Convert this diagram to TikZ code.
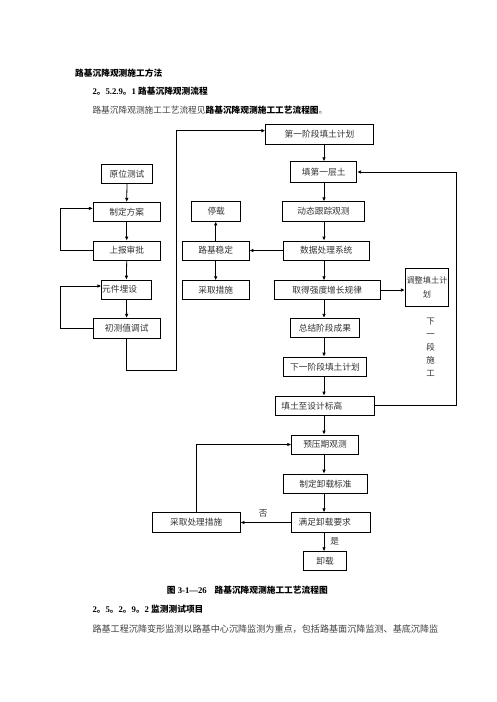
\documentclass[tikz,border=0pt]{standalone}
\usepackage{fontspec}
\setmainfont{Liberation Serif}
\newfontfamily\cjk{Noto Sans CJK SC}
\usetikzlibrary{arrows.meta}
\begin{document}
\begin{tikzpicture}[x=1pt,y=-1pt,
  box/.style={draw,line width=0.8pt,inner sep=0pt,font=\cjk\fontsize{8.7}{10}\selectfont,text=black!80},
  arr/.style={line width=0.8pt,-{Latex[length=4pt,width=3.6pt]}},
  ln/.style={line width=0.8pt},
  txt/.style={inner sep=0pt,anchor=west,font=\fontsize{8.7}{10}\selectfont},
  lbl/.style={inner sep=0pt,font=\cjk\fontsize{8.7}{10}\selectfont,text=black!80}]
\useasboundingbox (0,0) rectangle (496,702);
\fill[white] (0,0) rectangle (496,702);

% texts
\node[txt] (t1) at (75,73) {\cjk\bfseries 路基沉降观测施工方法};
\node[txt] (t2) at (92.3,91.5) {\bfseries 2{\cjk 。}5.2.9{\cjk 。}1\ {\cjk 路基沉降观测流程}};
\node[txt,text=black!75] (t3) at (92.3,110.5) {\cjk 路基沉降观测施工工艺流程见{\bfseries\color{black}路基沉降观测施工工艺流程图}。};
\node[txt] (cap) at (166.7,590) {\bfseries{\cjk 图} 3-1—26\hspace{0.9em}{\cjk 路基沉降观测施工工艺流程图}};
\node[txt] (t5) at (92.3,609.3) {\bfseries 2{\cjk 。}5{\cjk 。}2{\cjk 。}9{\cjk 。}2 {\cjk 监测测试项目}};
\node[txt,text=black!75,font=\fontsize{9.1}{10}\selectfont] (t6) at (92.3,629.3) {\cjk 路基工程沉降变形监测以路基中心沉降监测为重点，包括路基面沉降监测、基底沉降监};

% main column
\node[box,minimum width=107.6pt,minimum height=20pt] (p1) at (319.5,134.3) {第一阶段填土计划};
\node[box,minimum width=66pt,minimum height=20.6pt] (f1) at (323.7,172) {填第一层土};
\node[box,minimum width=81.6pt,minimum height=19.3pt] (dt) at (323.5,211.4) {动态跟踪观测};
\node[box,minimum width=86pt,minimum height=19pt] (sj) at (326.3,250.5) {数据处理系统};
\node[box,minimum width=105.7pt,minimum height=18.6pt] (qd) at (327.2,290) {取得强度增长规律};
\node[box,minimum width=43.4pt,minimum height=37.7pt,align=center,font=\cjk\fontsize{8.2}{14.5}\selectfont] (tz) at (427,287.2) {调整填土计\\划};
\node[box,minimum width=68.3pt,minimum height=19pt] (zj) at (324.9,327.8) {总结阶段成果};
\node[box,minimum width=83.4pt,minimum height=19.7pt] (xy) at (325,366.9) {下一阶段填土计划};
\node[box,text width=87pt,inner xsep=6pt,align=left,minimum height=19.5pt] (ts) at (324.8,405.8) {填土至设计标高};
\node[box,minimum width=66.6pt,minimum height=19pt] (yy) at (325,444.5) {预压期观测};
\node[box,minimum width=84.4pt,minimum height=19.3pt] (zd) at (325.5,483.7) {制定卸载标准};
\node[box,text width=65pt,inner xsep=7pt,align=left,minimum height=19.6pt] (mz) at (331.2,522.5) {满足卸载要求};
\node[box,minimum width=43.4pt,minimum height=19pt] (xz) at (325,561.2) {卸载};
\node[box,minimum width=87.7pt,minimum height=19.6pt] (cq) at (196.2,522.5) {采取处理措施};

% middle column
\node[box,minimum width=49pt,minimum height=19.3pt] (tzai) at (216.2,211.4) {停载};
\node[box,minimum width=66.7pt,minimum height=19pt] (lj) at (215.7,250.5) {路基稳定};
\node[box,minimum width=66.7pt,minimum height=18.6pt] (cc) at (215.7,290) {采取措施};

% left column
\node[box,minimum width=50.6pt,minimum height=19.3pt] (yw) at (127,173.7) {原位测试};
\node[box,minimum width=66.7pt,minimum height=18.7pt] (zf) at (126.7,211.7) {制定方案};
\node[box,minimum width=66.7pt,minimum height=19pt] (sb) at (126.7,250.5) {上报审批};
\node[box,text width=48.5pt,inner xsep=0.4pt,align=left,minimum height=19.3pt] (yj) at (126.4,289.7) {元件埋设};
\node[box,minimum width=66.7pt,minimum height=20pt] (cs) at (126.7,328.3) {初测值调试};

% labels
\node[lbl,align=center,font=\cjk\fontsize{8.5}{12.9}\selectfont] (vt) at (430.7,347.5) {下\\一\\段\\施\\工};
\node[lbl] (no) at (263.3,513.5) {否};
\node[lbl] (yes) at (334.8,541.7) {是};

% coordinates
\coordinate (col) at (324,0);
\coordinate (fb) at (456,0);
\coordinate (lx) at (60,0);
\coordinate (rb) at (176.7,370);

% main column arrows
\draw[arr] (col |- p1.south) -- (col |- f1.north);
\draw[arr] (col |- f1.south) -- (col |- dt.north);
\draw[arr] (col |- dt.south) -- (col |- sj.north);
\draw[arr] (col |- sj.south) -- (col |- qd.north);
\draw[arr] (col |- qd.south) -- (col |- zj.north);
\draw[arr] (col |- zj.south) -- (col |- xy.north);
\draw[arr] (col |- xy.south) -- (col |- ts.north);
\draw[arr] (col |- ts.south) -- (col |- yy.north);
\draw[arr] (col |- yy.south) -- (col |- zd.north);
\draw[arr] (col |- zd.south) -- (col |- mz.north);
\draw[arr] (col |- mz.south) -- (col |- xz.north);

\draw[arr] (qd.east) -- (qd.east -| tz.west);
\draw[arr] (ts.east) -- (ts.east -| fb) -- (fb |- f1.east) -- (f1.east);
\draw[arr] (sj.west) -- (lj.east);
\draw[arr] (lj.north) -- (lj.north |- tzai.south);
\draw[arr] (lj.south) -- (cc.north);
\draw[arr] (mz.west) -- (cq.east);
\draw[arr] (cq.north) |- (yy.west);

% left column arrows
\draw[arr] (yw.south) -- (zf.north);
\draw[arr] (zf.south) -- (sb.north);
\draw[arr] (sb.south) -- (yj.north);
\draw[arr] (yj.south) -- (cs.north);
\draw[arr] (sb.west) -- (sb.west -| lx) |- ([yshift=3.3pt]zf.west);
\draw[arr] (cs.west) -- (cs.west -| lx) |- ([yshift=3.7pt]yj.west);
\draw[arr] (cs.south) -- (cs.south |- rb) -- (rb) |- ([yshift=3.6pt]p1.west);
\end{tikzpicture}
\end{document}
